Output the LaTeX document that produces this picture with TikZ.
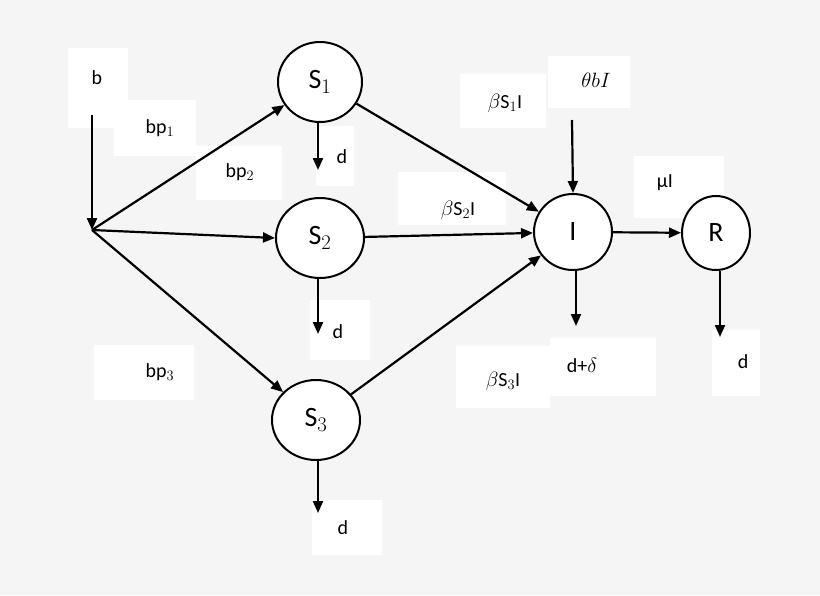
\documentclass[tikz,border=0pt]{standalone}
\usepackage{fontspec}
\setmainfont{Carlito}
\usetikzlibrary{arrows.meta,shapes.geometric}
\begin{document}
\begin{tikzpicture}[x=1pt,y=-1pt,
 ar/.style={line width=2.2pt,-{Triangle[length=12pt,width=10pt]}},
 lb/.style={font=\fontsize{20}{24}\selectfont},
 stt/.style={draw,line width=2pt,fill=white,ellipse,inner sep=0pt,font=\fontsize{28}{32}\selectfont}]
\fill[black!4] (0,0) rectangle (820,595);
\useasboundingbox (0,0) rectangle (820,595);
% label boxes
\fill[white] (68,48) rectangle (128,128);
\fill[white] (114,100) rectangle (196,156);
\fill[white] (196,146) rectangle (282,200);
\fill[white] (94,345) rectangle (194,400);
\fill[white] (316,126) rectangle (354,186);
\fill[white] (310,300) rectangle (370,360);
\fill[white] (312,500) rectangle (382,555);
\fill[white] (460,74) rectangle (546,128);
\fill[white] (548,56) rectangle (630,108);
\fill[white] (398,172) rectangle (506,225);
\fill[white] (634,156) rectangle (724,218);
\fill[white] (456,346) rectangle (550,408);
\fill[white] (550,338) rectangle (656,396);
\fill[white] (712,330) rectangle (760,396);
% labels
\node[lb] (lb) at (97,78) {b};
\node[lb] (lbp1) at (160,128) {bp$_1$};
\node[lb] (lbp2) at (240,172) {bp$_2$};
\node[lb] (lbp3) at (160,372) {bp$_3$};
\node[lb] (ld1) at (342,157) {d};
\node[lb] (ld2) at (338,332) {d};
\node[lb] (ld3) at (343,528) {d};
\node[lb] (lbs1) at (505,103) {$\beta$S$_1$I};
\node[lb] (ltb) at (596,80) {$\theta bI$};
\node[lb] (lbs2) at (458,210) {$\beta$S$_2$I};
\node[lb] (lmu) at (665,183) {µI};
\node[lb] (lbs3) at (503,381) {$\beta$S$_3$I};
\node[lb] (ldd) at (582,365) {d+$\delta$};
\node[lb] (ldr) at (743,362) {d};
% states
\node[stt,minimum width=84pt,minimum height=80pt] (S1) at (320,82) {S$_1$};
\node[stt,minimum width=88pt,minimum height=80pt] (S2) at (320,238) {S$_2$};
\node[stt,minimum width=88pt,minimum height=80pt] (S3) at (316,420) {S$_3$};
\node[stt,minimum width=78pt,minimum height=76pt] (I) at (573,232) {I};
\node[stt,minimum width=68pt,minimum height=74pt] (R) at (716,233) {R};
% coordinates
\coordinate (bt) at (92,115);
\coordinate (br) at (92,230);
\coordinate (tbs) at (572,120);
\coordinate (d1) at (318,170);
\coordinate (d2) at (318,334);
\coordinate (d3) at (318,513);
\coordinate (dI) at (576,326);
\coordinate (dR) at (720,337);
% arrows
\draw[ar] (bt) -- (br);
\draw[ar] (br) -- (S1);
\draw[ar] (br) -- (S2.west);
\draw[ar] (br) -- (S3);
\draw[ar] (S1.south) ++(-2,0) -- (d1);
\draw[ar] (S2.south) ++(-2,0) -- (d2);
\draw[ar] (S3.south) ++(2,0) -- (d3);
\draw[ar] (S1) -- (I);
\draw[ar] (S2) -- (I);
\draw[ar] (S3) -- (I);
\draw[ar] (tbs) -- (I.north);
\draw[ar] (I) -- (R);
\draw[ar] (I.south) ++(3,0) -- (dI);
\draw[ar] (R.south) ++(4,0) -- (dR);
\end{tikzpicture}
\end{document}
